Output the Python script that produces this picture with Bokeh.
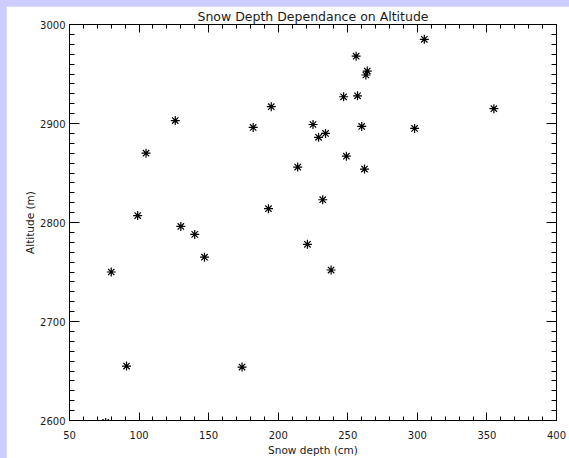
from bokeh.plotting import figure
from bokeh.models import LinearAxis, SingleIntervalTicker, Range1d, CustomJSTickFormatter
from bokeh.embed import file_html
from bokeh.resources import INLINE

# Data
snow_depth = [76, 80, 91, 99, 105, 126, 130, 140, 147, 174, 182, 193, 195, 214, 221,
              225, 229, 234, 232, 238, 247, 249, 256, 257, 260, 262, 263, 264, 298, 305, 355]
altitude = [2598, 2750, 2655, 2807, 2870, 2903, 2796, 2788, 2765, 2654, 2896, 2814, 2917, 2856, 2778,
            2899, 2886, 2890, 2823, 2752, 2927, 2867, 2968, 2928, 2897, 2854, 2949, 2953, 2895, 2985, 2915]

x_ticks_interval = 50
y_ticks_interval = 100

FONT = "DejaVu Sans"
TXT = "#1a1a1a"

p = figure(width=563, height=452, output_backend="svg", toolbar_location=None,
           x_range=Range1d(50, 400), y_range=Range1d(2600, 3000),
           title="Snow Depth Dependance on Altitude",
           min_border_left=63, min_border_right=13, min_border_top=18, min_border_bottom=38,
           x_axis_label="Snow depth (cm)", y_axis_label="Altitude (m)")

p.background_fill_color = "white"
p.border_fill_color = "white"
p.outline_line_color = "black"
p.xgrid.visible = False
p.ygrid.visible = False

p.title.align = "center"
p.title.text_font = FONT
p.title.text_font_size = "12.5px"
p.title.text_font_style = "normal"
p.title.text_color = TXT
p.title.standoff = 1
p.title.offset = 0

def style_axis(ax, major_in, minor_in, labels=True):
    ax.axis_line_color = "black"
    ax.major_tick_line_color = "black"
    ax.minor_tick_line_color = "black"
    ax.major_tick_in = major_in
    ax.major_tick_out = 0
    ax.minor_tick_in = minor_in
    ax.minor_tick_out = 0
    ax.major_label_text_font = FONT
    ax.major_label_text_font_size = "10px"
    ax.major_label_text_color = TXT
    ax.axis_label_text_font = FONT
    ax.axis_label_text_font_size = "10.5px"
    ax.axis_label_text_font_style = "normal"
    ax.axis_label_text_color = TXT
    if not labels:
        ax.formatter = CustomJSTickFormatter(code="return ''")
        ax.major_label_standoff = 0

p.xaxis.ticker = SingleIntervalTicker(interval=x_ticks_interval, num_minor_ticks=5)
p.yaxis.ticker = SingleIntervalTicker(interval=y_ticks_interval, num_minor_ticks=10)
style_axis(p.xaxis[0], 8, 4)
style_axis(p.yaxis[0], 10, 5)
p.xaxis.major_label_standoff = 10
p.xaxis.axis_label_standoff = 2
p.yaxis.major_label_standoff = 4
p.yaxis.axis_label_standoff = 1
p.yaxis.major_label_orientation = "horizontal"

top = LinearAxis(ticker=SingleIntervalTicker(interval=x_ticks_interval, num_minor_ticks=5))
style_axis(top, 8, 4, labels=False)
p.add_layout(top, "above")
right = LinearAxis(ticker=SingleIntervalTicker(interval=y_ticks_interval, num_minor_ticks=10))
style_axis(right, 10, 5, labels=False)
p.add_layout(right, "right")

p.scatter(snow_depth, altitude, marker="asterisk", size=9, line_color="black", line_width=1.2)

tmpl = """{% block postamble %}<style>html { background: #ccccff; } body { margin: 6px 0 0 6px !important; padding: 0 !important; background: #ccccff; }</style>{% endblock %}"""
open("out.html", "w").write(file_html(p, INLINE, template=tmpl))
